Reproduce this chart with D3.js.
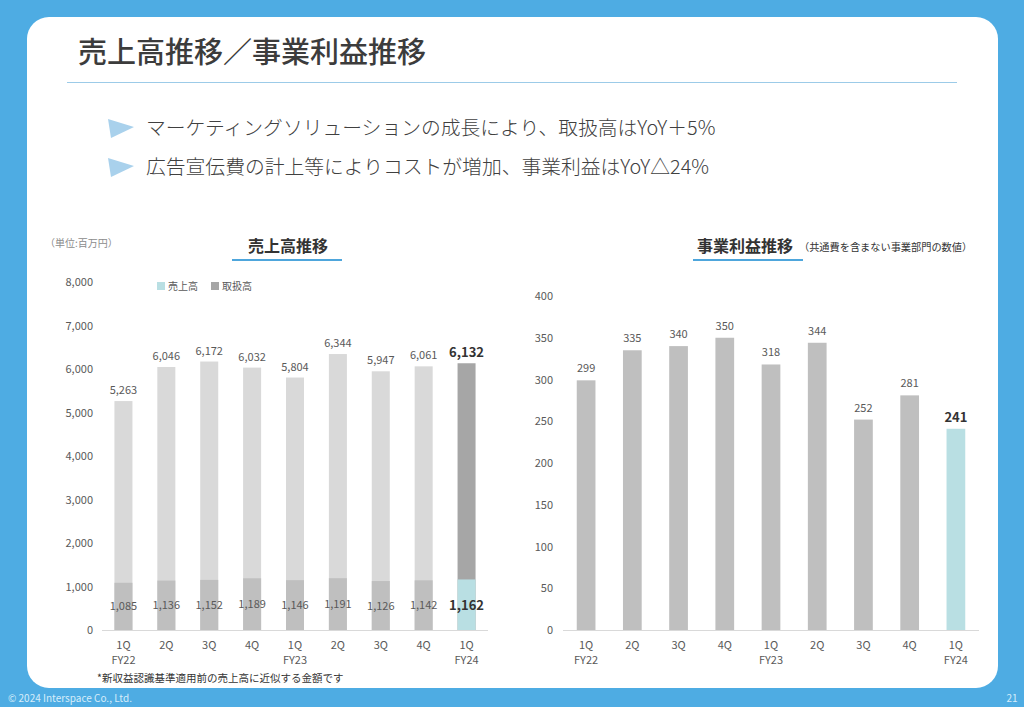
<!DOCTYPE html>
<html><head><meta charset="utf-8">
<script src="https://cdn.jsdelivr.net/npm/d3@7"></script>
<style>
html,body{margin:0;padding:0;background:#4eace3;}
svg{display:block;font-family:"Noto Sans CJK JP","Noto Sans",sans-serif;}
</style></head>
<body>
<svg id="c" width="1024" height="707"></svg>
<script>
const quarters = ["1Q","2Q","3Q","4Q","1Q","2Q","3Q","4Q","1Q"];
const fiscalYears = ["FY22","","","","FY23","","","","FY24"];
const transactionVolume = [5263,6046,6172,6032,5804,6344,5947,6061,6132];
const sales = [1085,1136,1152,1189,1146,1191,1126,1142,1162];
const operatingProfit = [299,335,340,350,318,344,252,281,241];
const leftTicks = [0,1000,2000,3000,4000,5000,6000,7000,8000];
const rightTicks = [0,50,100,150,200,250,300,350,400];

const svg = d3.select("#c");
const fmt = d3.format(",");
const txt = "#595959";

// card
svg.append("rect").attr("x",0).attr("y",0).attr("width",1024).attr("height",707).attr("fill","#4eace3");
svg.append("rect").attr("x",27).attr("y",17).attr("width",971).attr("height",671).attr("rx",22).attr("fill","#fff");

// title
svg.append("text").attr("x",78).attr("y",63).attr("font-size",29).attr("font-weight",500)
  .attr("fill","#3c3c3c").text("売上高推移／事業利益推移");
svg.append("line").attr("x1",67).attr("x2",957).attr("y1",82.5).attr("y2",82.5).attr("stroke","#9ccbe8").attr("stroke-width",1);

// bullets
const bullets = ["マーケティングソリューションの成長により、取扱高はYoY＋5%","広告宣伝費の計上等によりコストが増加、事業利益はYoY△24%"];
bullets.forEach((b,i)=>{
  const cy = 128 + i*39;
  svg.append("polygon").attr("points",`108,${cy-9} 134,${cy-1} 111,${cy+10}`).attr("fill","#a9d1ec");
  svg.append("text").attr("x",146).attr("y",cy+7).attr("font-size",19.8).attr("font-weight",300).attr("fill","#404040").text(b);
});

// unit
svg.append("text").attr("x",50).attr("y",247).attr("font-size",10).attr("fill","#8c8c8c").text("（単位:百万円）").attr("dx",-5);

// chart titles
svg.append("text").attr("x",288).attr("y",252).attr("text-anchor","middle").attr("font-size",16).attr("font-weight",700).attr("fill","#333").text("売上高推移");
svg.append("line").attr("x1",232).attr("x2",342).attr("y1",260).attr("y2",260).attr("stroke","#4ea6dc").attr("stroke-width",2);
svg.append("text").attr("x",697).attr("y",252).attr("font-size",16).attr("font-weight",700).attr("fill","#333").text("事業利益推移");
svg.append("text").attr("x",799).attr("y",251).attr("font-size",10.2).attr("fill","#333").text("（共通費を含まない事業部門の数値）");
svg.append("line").attr("x1",693).attr("x2",803).attr("y1",260).attr("y2",260).attr("stroke","#4ea6dc").attr("stroke-width",2);

// legend
svg.append("rect").attr("x",157).attr("y",282).attr("width",8).attr("height",8).attr("fill","#b9dfe3");
svg.append("text").attr("x",168).attr("y",290).attr("font-size",10).attr("fill",txt).text("売上高");
svg.append("rect").attr("x",211).attr("y",282).attr("width",8).attr("height",8).attr("fill","#a6a6a6");
svg.append("text").attr("x",222).attr("y",290).attr("font-size",10).attr("fill",txt).text("取扱高");

const idx = quarters.map((d,i)=>i);
const last = quarters.length-1;

function xAxisLabels(g, x){
  idx.forEach(i=>{
    const cx = x(i)+x.bandwidth()/2;
    g.append("text").attr("x",cx).attr("y",649).attr("text-anchor","middle").attr("font-size",11).attr("fill",txt).text(quarters[i]);
    if(fiscalYears[i]) g.append("text").attr("x",cx).attr("y",664).attr("text-anchor","middle").attr("font-size",11).attr("fill",txt).text(fiscalYears[i]);
  });
}

// LEFT chart
{
  const x = d3.scaleBand().domain(idx).range([102,488]).paddingInner(0.58).paddingOuter(0.29);
  const y = d3.scaleLinear().domain([0,8000]).range([630,282]);
  const g = svg.append("g");
  const ax = g.append("g").attr("transform","translate(93,0)")
    .call(d3.axisLeft(y).tickValues(leftTicks).tickFormat(fmt).tickSize(0).tickPadding(0));
  ax.select(".domain").remove();
  ax.selectAll("text").attr("font-size",11).attr("fill",txt).attr("font-family","'Noto Sans CJK JP',sans-serif");
  g.selectAll(".tv").data(transactionVolume).join("rect")
    .attr("x",(d,i)=>x(i)).attr("width",x.bandwidth())
    .attr("y",d=>y(d)).attr("height",d=>y(0)-y(d))
    .attr("fill",(d,i)=>i===last?"#a6a6a6":"#d9d9d9");
  g.selectAll(".sl").data(sales).join("rect")
    .attr("x",(d,i)=>x(i)).attr("width",x.bandwidth())
    .attr("y",d=>y(d)).attr("height",d=>y(0)-y(d))
    .attr("fill",(d,i)=>i===last?"#b9dfe3":"#bfbfbf");
  g.append("line").attr("x1",102).attr("x2",488).attr("y1",630.5).attr("y2",630.5).attr("stroke","#d9d9d9");
  transactionVolume.forEach((d,i)=>{
    g.append("text").attr("x",x(i)+x.bandwidth()/2).attr("y",y(d)-(i===last?6:7)).attr("text-anchor","middle")
      .attr("font-size",i===last?13:11).attr("font-weight",i===last?700:400).attr("fill",i===last?"#333":txt).text(fmt(d));
  });
  sales.forEach((d,i)=>{
    g.append("text").attr("x",x(i)+x.bandwidth()/2).attr("y",y(d/2)+(i===last?5:4)).attr("text-anchor","middle")
      .attr("font-size",i===last?13:11).attr("font-weight",i===last?700:400).attr("fill",i===last?"#333":txt).text(fmt(d));
  });
  xAxisLabels(g,x);
}

// RIGHT chart
{
  const x = d3.scaleBand().domain(idx).range([563,979]).paddingInner(0.595).paddingOuter(0.2975);
  const y = d3.scaleLinear().domain([0,400]).range([630,296]);
  const g = svg.append("g");
  const ax = g.append("g").attr("transform","translate(553,0)")
    .call(d3.axisLeft(y).tickValues(rightTicks).tickFormat(fmt).tickSize(0).tickPadding(0));
  ax.select(".domain").remove();
  ax.selectAll("text").attr("font-size",11).attr("fill",txt).attr("font-family","'Noto Sans CJK JP',sans-serif");
  g.selectAll(".op").data(operatingProfit).join("rect")
    .attr("x",(d,i)=>x(i)).attr("width",x.bandwidth())
    .attr("y",d=>y(d)).attr("height",d=>y(0)-y(d))
    .attr("fill",(d,i)=>i===last?"#b9dfe3":"#bfbfbf");
  g.append("line").attr("x1",563).attr("x2",979).attr("y1",630.5).attr("y2",630.5).attr("stroke","#d9d9d9");
  operatingProfit.forEach((d,i)=>{
    g.append("text").attr("x",x(i)+x.bandwidth()/2).attr("y",y(d)-(i===last?7:8)).attr("text-anchor","middle")
      .attr("font-size",i===last?13:11).attr("font-weight",i===last?700:400).attr("fill",i===last?"#333":txt).text(fmt(d));
  });
  xAxisLabels(g,x);
}

// footnote
svg.append("text").attr("x",97).attr("y",682).attr("font-size",10.5).attr("fill","#333").text("*新収益認識基準適用前の売上高に近似する金額です");

// footer
svg.append("text").attr("x",8).attr("y",702).attr("font-size",10).attr("fill","#d6ecfa").text("© 2024 Interspace Co., Ltd.");
svg.append("text").attr("x",1012).attr("y",702).attr("font-size",10).attr("fill","#d6ecfa").attr("text-anchor","middle").text("21");
</script>
</body></html>
